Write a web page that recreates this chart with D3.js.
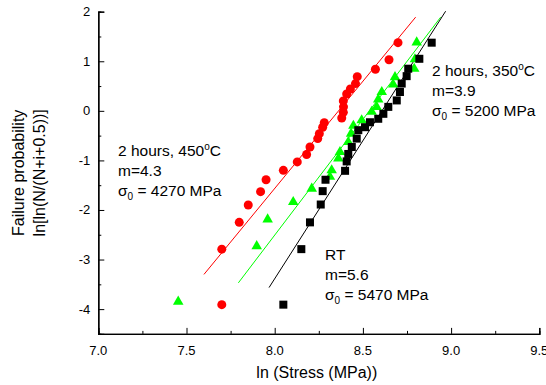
<!DOCTYPE html>
<html>
<head>
<meta charset="utf-8">
<script src="https://cdn.jsdelivr.net/npm/d3@7"></script>
<style>
  body { margin: 0; background: #fff; }
  svg { font-family: Arial, "Liberation Sans", sans-serif; }
</style>
</head>
<body>
<svg id="chart" width="546" height="385"></svg>
<script>
// ln(stress) and failure probability
const redX = [7.700, 7.700, 7.799, 7.850, 7.920, 7.951, 8.049, 8.128, 8.181, 8.200, 8.244, 8.253, 8.272, 8.281,
  8.380, 8.389, 8.390, 8.389, 8.408, 8.429, 8.458, 8.468, 8.571, 8.648, 8.699];
const redY = [-3.91, -2.79, -2.25, -1.90, -1.63, -1.39, -1.20, -1.03, -0.88, -0.73, -0.56, -0.46, -0.33, -0.24,
  -0.145, -0.03, 0.08, 0.20, 0.34, 0.44, 0.55, 0.69, 0.84, 1.03, 1.375];

const greenX = [7.453, 7.898, 7.960, 8.105, 8.210, 8.313, 8.323, 8.361, 8.370, 8.417, 8.433, 8.446, 8.493,
  8.550, 8.578, 8.587, 8.607, 8.672, 8.682, 8.791, 8.795, 8.805];
const greenY = [-3.85, -2.73, -2.19, -1.84, -1.57, -1.33, -1.20, -0.96, -0.83, -0.63, -0.46, -0.30, -0.19,
  -0.02, 0.08, 0.23, 0.38, 0.53, 0.68, 0.85, 1.04, 1.38];

const blackX = [8.049, 8.151, 8.200, 8.261, 8.272, 8.288, 8.399, 8.408, 8.417, 8.437, 8.465, 8.474, 8.512,
  8.540, 8.587, 8.616, 8.644, 8.692, 8.710, 8.720, 8.748, 8.757, 8.820, 8.890];
const blackY = [-3.91, -2.79, -2.25, -1.89, -1.62, -1.39, -1.21, -1.02, -0.87, -0.73, -0.56, -0.39, -0.33,
  -0.23, -0.16, -0.06, 0.08, 0.21, 0.38, 0.55, 0.70, 0.85, 1.05, 1.375];

// fitted Weibull lines, start and end points
const redFit = [[7.599, -3.30], [8.799, 1.89]];
const greenFit = [[7.794, -3.47], [8.941, 1.89]];
const blackFit = [[7.968, -3.565], [8.969, 2.01]];

const xTicks = [7.0, 7.5, 8.0, 8.5, 9.0, 9.5];
const yTicks = [-4, -3, -2, -1, 0, 1, 2];

const svg = d3.select('#chart');
const plotLeft = 98.3, plotRight = 539.3, plotTop = 11.7, plotBottom = 333.9;

const x = d3.scaleLinear().domain([7.0, 9.5]).range([plotLeft, plotRight]);
const y = d3.scaleLinear().domain([-4.5, 2]).range([plotBottom, plotTop]);

// axes - ticks point inward, minor ticks between
const xAxis = svg.append('g').attr('transform', `translate(0,${plotBottom})`);
xAxis.call(d3.axisTop(x).tickValues(d3.range(7.25, 9.5, 0.5)).tickSize(3).tickFormat(''));
xAxis.append('g').call(d3.axisTop(x).tickValues(xTicks).tickSize(6).tickFormat(''));
xAxis.selectAll('path.domain').attr('stroke', '#000').attr('stroke-width', 1.3);
xAxis.selectAll('.tick line').attr('stroke', '#000');

svg.append('g').selectAll('text').data(xTicks).enter().append('text')
  .attr('x', d => x(d)).attr('y', plotBottom + 21)
  .attr('text-anchor', 'middle').attr('font-size', 13)
  .text(d => d3.format('.1f')(d));

const yAxis = svg.append('g').attr('transform', `translate(${plotLeft},0)`);
yAxis.call(d3.axisRight(y).tickValues(d3.range(-4.5, 2, 0.5).filter(v => v % 1 !== 0)).tickSize(3).tickFormat(''));
yAxis.append('g').call(d3.axisRight(y).tickValues(yTicks).tickSize(6).tickFormat(''));
yAxis.selectAll('path.domain').attr('stroke', '#000').attr('stroke-width', 1.3);
yAxis.selectAll('.tick line').attr('stroke', '#000');

svg.append('g').selectAll('text').data(yTicks).enter().append('text')
  .attr('x', plotLeft - 8).attr('y', d => y(d) + 4.5)
  .attr('text-anchor', 'end').attr('font-size', 13)
  .text(d => d);

// axis titles
svg.append('text').attr('x', (plotLeft + plotRight) / 2 - 2).attr('y', 378)
  .attr('text-anchor', 'middle').attr('font-size', 16).text('ln (Stress (MPa))');

const yTitle = svg.append('g').attr('transform', `translate(0,${(plotTop + plotBottom) / 2})`);
yTitle.append('text').attr('transform', 'translate(24,0) rotate(-90)')
  .attr('text-anchor', 'middle').attr('font-size', 16).text('Failure probability');
yTitle.append('text').attr('transform', 'translate(45,0) rotate(-90)')
  .attr('text-anchor', 'middle').attr('font-size', 16).text('ln[ln(N/(N+i+0.5))]');

// fit lines
const line = d3.line().x(d => x(d[0])).y(d => y(d[1]));
[[redFit, '#ff0000'], [greenFit, '#00ff00'], [blackFit, '#000']].forEach(([d, c]) => {
  svg.append('path').datum(d).attr('d', line).attr('fill', 'none').attr('stroke', c).attr('stroke-width', 1);
});

// markers
svg.append('g').selectAll('circle').data(d3.zip(redX, redY)).enter().append('circle')
  .attr('cx', d => x(d[0])).attr('cy', d => y(d[1])).attr('r', 4.5).attr('fill', '#ff0000');

const tri = d3.symbol().type(d3.symbolTriangle).size(48);
svg.append('g').selectAll('path').data(d3.zip(greenX, greenY)).enter().append('path')
  .attr('d', tri).attr('transform', d => `translate(${x(d[0])},${y(d[1])})`).attr('fill', '#00ff00');

svg.append('g').selectAll('rect').data(d3.zip(blackX, blackY)).enter().append('rect')
  .attr('x', d => x(d[0]) - 4).attr('y', d => y(d[1]) - 4).attr('width', 8).attr('height', 8).attr('fill', '#000');

// annotations
function note(tx, ty, temp, m, sigma) {
  const g = svg.append('g').attr('font-size', 15.5);
  if (temp) {
    const t = g.append('text').attr('x', tx).attr('y', ty);
    t.append('tspan').text('2 hours, ' + temp);
    t.append('tspan').attr('font-size', 10).attr('dy', -6).text('o');
    t.append('tspan').attr('dy', 6).text('C');
  } else {
    g.append('text').attr('x', tx).attr('y', ty).text('RT');
  }
  g.append('text').attr('x', tx).attr('y', ty + 20).text('m=' + m);
  const s = g.append('text').attr('x', tx).attr('y', ty + 40);
  s.append('tspan').text('σ');
  s.append('tspan').attr('font-size', 10).attr('dy', 4).text('0');
  s.append('tspan').attr('dy', -4).text(' = ' + sigma + ' MPa');
}
note(118, 156, '450', '4.3', '4270');
note(432, 76, '350', '3.9', '5200');
note(325, 260, null, '5.6', '5470');
</script>
</body>
</html>
